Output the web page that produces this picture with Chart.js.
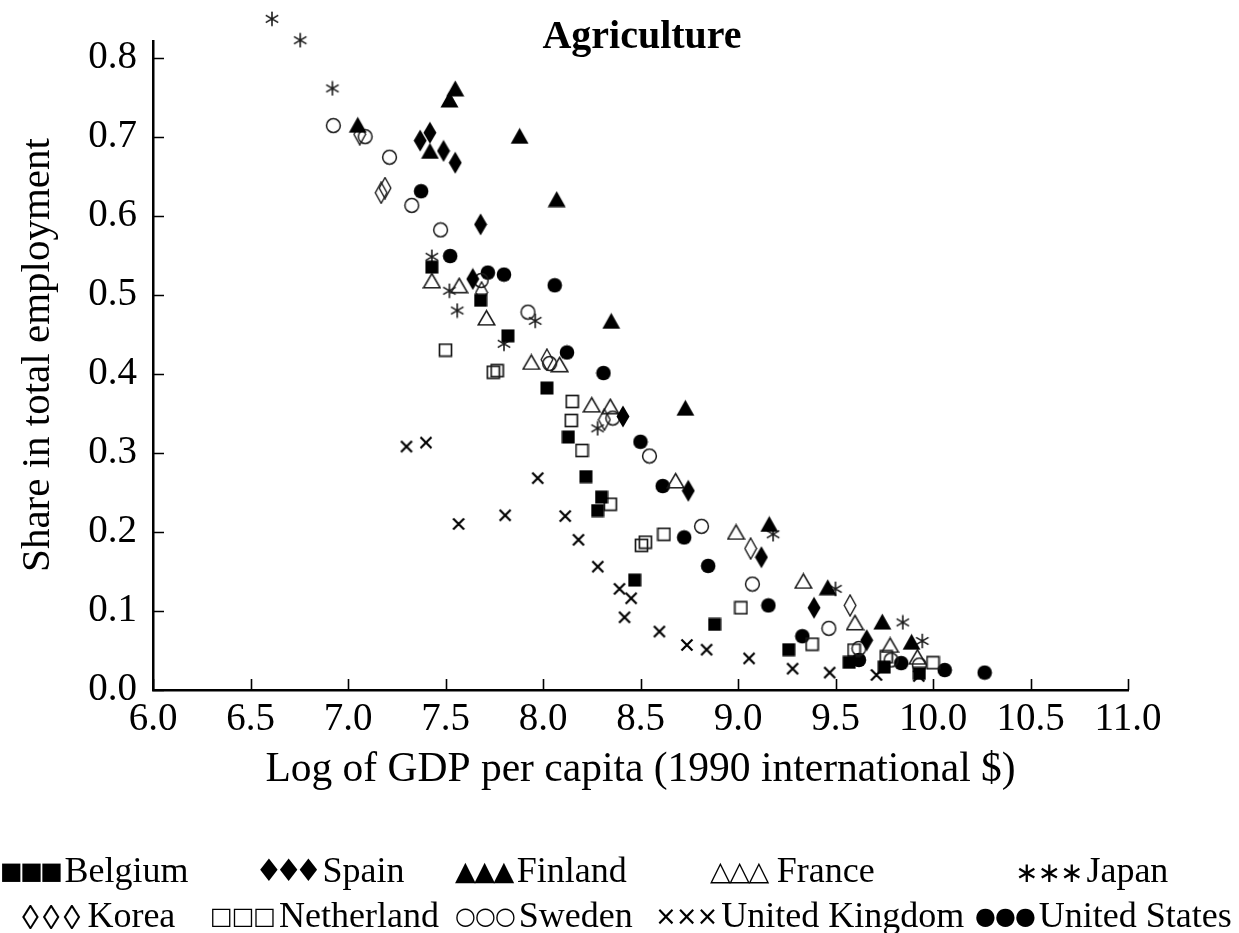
<!DOCTYPE html>
<html>
<head>
<meta charset="utf-8">
<script src="https://cdn.jsdelivr.net/npm/chart.js@4.4.1/dist/chart.umd.min.js"></script>
<style>
  body { margin: 0; background: #fff; }
  #wrap { position: relative; width: 1239px; height: 933px; overflow: hidden;
          font-family: "Liberation Serif", "Times New Roman", serif; color: #000; }
  #chart { position: absolute; left: 0; top: 0; }
  #title { position: absolute; left: 442px; width: 400px; top: 11px; text-align: center;
           font-weight: bold; font-size: 40px; line-height: 48px; }
  #ytitle { position: absolute; left: 35px; top: 355px; width: 600px; margin-left: -300px; margin-top: -24px;
            text-align: center; font-size: 41px; line-height: 48px; white-space: nowrap;
            transform: rotate(-90deg); transform-origin: 50% 50%; }
  .lg { position: absolute; font-size: 36px; line-height: 40px; white-space: nowrap; }
  .sym { font-family: "DejaVu Sans", sans-serif; font-size: 24px; letter-spacing: -1px;
         display: inline-block; vertical-align: 3px; margin-right: 4px; }
</style>
</head>
<body>
<div id="wrap">
  <canvas id="chart" width="1239" height="933"></canvas>
  <div id="title"></div>
  <div id="ytitle"></div>
  <div id="legend"></div>
</div>
<script>
// ---------- data ----------
const title = 'Agriculture';
const xAxisTitle = 'Log of GDP per capita (1990 international $)';
const yAxisTitle = 'Share in total employment';
const xTickValues = [6.0, 6.5, 7.0, 7.5, 8.0, 8.5, 9.0, 9.5, 10.0, 10.5, 11.0];
const yTickValues = [0.0, 0.1, 0.2, 0.3, 0.4, 0.5, 0.6, 0.7, 0.8];

const belgium = [[7.43,0.535],[7.68,0.493],[7.82,0.448],[8.02,0.382],[8.13,0.320],[8.22,0.270],
  [8.30,0.244],[8.28,0.227],[8.47,0.139],[8.88,0.083],[9.26,0.051],[9.57,0.035],[9.75,0.029],[9.93,0.021]];
const spain = [[7.37,0.695],[7.42,0.705],[7.49,0.682],[7.55,0.667],[7.68,0.589],[7.64,0.520],
  [8.41,0.346],[8.745,0.252],[9.12,0.168],[9.39,0.104],[9.66,0.063]];
const finland = [[7.05,0.715],[7.42,0.682],[7.52,0.747],[7.55,0.761],[7.88,0.701],[8.07,0.621],
  [8.35,0.467],[8.73,0.357],[9.16,0.210],[9.46,0.130],[9.74,0.0865],[9.89,0.061]];
const france = [[7.43,0.518],[7.57,0.512],[7.71,0.471],[7.94,0.415],[8.085,0.412],[8.25,0.361],
  [8.345,0.359],[8.68,0.265],[8.99,0.200],[9.335,0.138],[9.60,0.0855],[9.78,0.057],[9.92,0.042]];
const japan = [[6.61,0.849],[6.755,0.822],[6.92,0.761],[7.43,0.548],[7.52,0.505],[7.56,0.480],
  [7.80,0.438],[7.96,0.467],[8.28,0.331],[9.18,0.197],[9.50,0.128],[9.845,0.0855],[9.945,0.062]];
const korea = [[7.06,0.703],[7.17,0.629],[7.19,0.635],[7.685,0.503],[8.02,0.418],[8.315,0.342],
  [9.065,0.179],[9.575,0.107]];
const netherland = [[7.50,0.430],[7.745,0.402],[7.765,0.404],[8.15,0.365],[8.145,0.341],[8.20,0.303],
  [8.345,0.235],[8.505,0.183],[8.525,0.187],[8.62,0.197],[9.015,0.104],[9.38,0.058],[9.595,0.0505],
  [9.76,0.042],[10.0,0.0345]];
const sweden = [[6.925,0.714],[7.088,0.700],[7.213,0.674],[7.327,0.613],[7.475,0.582],[7.683,0.518],
  [7.923,0.478],[8.034,0.413],[8.358,0.344],[8.546,0.296],[8.813,0.207],[9.074,0.134],[9.466,0.078],
  [9.62,0.0525],[9.785,0.038],[9.93,0.0316]];
const unitedKingdom = [[7.30,0.308],[7.40,0.313],[7.567,0.210],[7.806,0.221],[7.973,0.268],[8.114,0.220],
  [8.182,0.190],[8.281,0.156],[8.392,0.128],[8.418,0.092],[8.452,0.116],[8.597,0.074],[8.738,0.057],
  [8.839,0.051],[9.057,0.040],[9.28,0.027],[9.47,0.022],[9.71,0.019],[9.927,0.0177]];
const unitedStates = [[7.375,0.631],[7.524,0.549],[7.717,0.528],[7.80,0.5255],[8.06,0.512],[8.123,0.427],
  [8.31,0.401],[8.50,0.314],[8.614,0.258],[8.724,0.193],[8.847,0.157],[9.156,0.107],[9.33,0.068],
  [9.62,0.038],[9.837,0.034],[10.06,0.0253],[10.265,0.022]];

const seriesNames = ['Belgium','Spain','Finland','France','Japan','Korea','Netherland','Sweden','United Kingdom','United States'];
const seriesData = [belgium, spain, finland, france, japan, korea, netherland, sweden, unitedKingdom, unitedStates];
const legendSymbols = ['\u25A0\u25A0\u25A0','\u2666\u2666\u2666','\u25B2\u25B2\u25B2','\u25B3\u25B3\u25B3','\u2217\u2217\u2217',
                       '\u25CA\u25CA\u25CA','\u25A1\u25A1\u25A1','\u25CB\u25CB\u25CB','\u00D7\u00D7\u00D7','\u25CF\u25CF\u25CF'];
const legendSymbolStyle = ['letter-spacing:-2.5px;',
  'font-size:31px;vertical-align:1px;letter-spacing:-8px;margin-right:8px;',
  'font-size:27px;vertical-align:2px;letter-spacing:-1.5px;',
  'font-size:27px;vertical-align:2px;letter-spacing:-1.5px;margin-right:9px;',
  'font-size:28px;vertical-align:0px;',
  'font-family:\'Liberation Serif\';font-size:34px;vertical-align:-2px;letter-spacing:4px;margin-right:3px;',
  '', '',
  'font-size:26px;vertical-align:2px;', ''];

// ---------- marker images ----------
function mk(w, h, draw) {
  const c = document.createElement('canvas');
  c.width = w; c.height = h;
  const g = c.getContext('2d');
  g.fillStyle = '#000'; g.strokeStyle = '#1a1a1a';
  draw(g, w, h);
  return c;
}
function poly(g, pts) { g.beginPath(); g.moveTo(pts[0][0], pts[0][1]); for (let i = 1; i < pts.length; i++) g.lineTo(pts[i][0], pts[i][1]); g.closePath(); }
const markers = [
  mk(14, 14, g => { g.fillRect(0.5, 0.5, 13, 13); }),
  mk(14, 23, g => { poly(g, [[7,0.5],[13.5,11.5],[7,22.5],[0.5,11.5]]); g.fill(); }),
  mk(19, 17, g => { poly(g, [[9.5,0.5],[18.5,16.5],[0.5,16.5]]); g.fill(); }),
  mk(19, 17, g => { g.lineWidth = 1.5; poly(g, [[9.5,1.5],[17.8,15.8],[1.2,15.8]]); g.stroke(); }),
  mk(16, 16, g => { g.lineWidth = 1.6; g.beginPath();
      [90, 30, 150].forEach(a => { const r = a * Math.PI / 180, dx = Math.cos(r) * 7.2, dy = Math.sin(r) * 7.2;
        g.moveTo(8 - dx, 8 - dy); g.lineTo(8 + dx, 8 + dy); }); g.stroke(); }),
  mk(14, 23, g => { g.lineWidth = 1.4; poly(g, [[7,1],[12.8,11.5],[7,22],[1.2,11.5]]); g.stroke(); }),
  mk(15, 15, g => { g.lineWidth = 1.7; g.strokeRect(1.5, 1.5, 12, 12); }),
  mk(17, 17, g => { g.lineWidth = 1.5; g.beginPath(); g.arc(8.5, 8.5, 6.9, 0, Math.PI * 2); g.stroke(); }),
  mk(14, 14, g => { g.lineWidth = 2.2; g.strokeStyle = '#000'; g.beginPath();
      g.moveTo(1.5, 1.5); g.lineTo(12.5, 12.5); g.moveTo(12.5, 1.5); g.lineTo(1.5, 12.5); g.stroke(); }),
  mk(16, 16, g => { g.beginPath(); g.arc(8, 8, 7.3, 0, Math.PI * 2); g.fill(); })
];

// ---------- legend and titles (HTML text) ----------
const legendPos = [[0,850],[255,850],[455,850],[710,850],[1015,850],
                   [22,895],[210,895],[455,895],[655,895],[975,895]];
const legendEl = document.getElementById('legend');
seriesNames.forEach((n, i) => {
  const d = document.createElement('div');
  d.className = 'lg';
  d.style.left = legendPos[i][0] + 'px';
  d.style.top = legendPos[i][1] + 'px';
  d.innerHTML = '<span class="sym" style="' + legendSymbolStyle[i] + '">' + legendSymbols[i] + '</span>' + n;
  legendEl.appendChild(d);
});
document.getElementById('title').textContent = title;
document.getElementById('ytitle').textContent = yAxisTitle;

// ---------- inward tick marks ----------
const inwardTicks = {
  id: 'inwardTicks',
  afterDatasetsDraw(chart) {
    const { ctx, chartArea: a, scales: { x, y } } = chart;
    ctx.save();
    ctx.strokeStyle = '#000';
    ctx.lineWidth = 1.6;
    ctx.beginPath();
    x.ticks.forEach(t => { const p = Math.round(x.getPixelForValue(t.value)) + 0.5;
      ctx.moveTo(p, a.bottom); ctx.lineTo(p, a.bottom - 11); });
    y.ticks.forEach(t => { const p = Math.round(y.getPixelForValue(t.value)) + 0.5;
      ctx.moveTo(a.left, p); ctx.lineTo(a.left + 11, p); });
    ctx.stroke();
    ctx.restore();
  }
};

const serif = "'Liberation Serif', 'Times New Roman', serif";

new Chart(document.getElementById('chart'), {
  type: 'scatter',
  data: {
    datasets: seriesNames.map((n, i) => ({
      label: n,
      data: seriesData[i].map(p => ({ x: p[0], y: p[1] })),
      pointStyle: markers[i],
      pointRadius: 40,
      clip: false
    }))
  },
  options: {
    responsive: false,
    animation: false,
    events: [],
    layout: { padding: { left: 0, top: 40, right: 111, bottom: 123 } },
    plugins: { legend: { display: false }, title: { display: false }, tooltip: { enabled: false } },
    scales: {
      x: {
        type: 'linear', min: 6, max: 11,
        afterBuildTicks: s => { s.ticks = xTickValues.map(v => ({ value: v })); },
        afterFit: s => { s.height = 120; },
        grid: { display: false, drawTicks: false },
        border: { display: true, color: '#000', width: 2.5 },
        ticks: { padding: 6, color: '#000', font: { family: serif, size: 39 },
                 maxRotation: 0, autoSkip: false, callback: v => v.toFixed(1) },
        title: { display: true, text: xAxisTitle, color: '#000',
                 font: { family: serif, size: 41.5 }, padding: { top: 0, bottom: 15 } }
      },
      y: {
        type: 'linear', min: 0, max: 0.821,
        afterBuildTicks: s => { s.ticks = yTickValues.map(v => ({ value: v })); },
        afterFit: s => { s.width = 153; },
        grid: { display: false, drawTicks: false },
        border: { display: true, color: '#000', width: 2.5 },
        ticks: { padding: 16, color: '#000', font: { family: serif, size: 39 },
                 autoSkip: false, callback: v => v.toFixed(1) },
        title: { display: false }
      }
    }
  },
  plugins: [inwardTicks]
});
</script>
</body>
</html>
